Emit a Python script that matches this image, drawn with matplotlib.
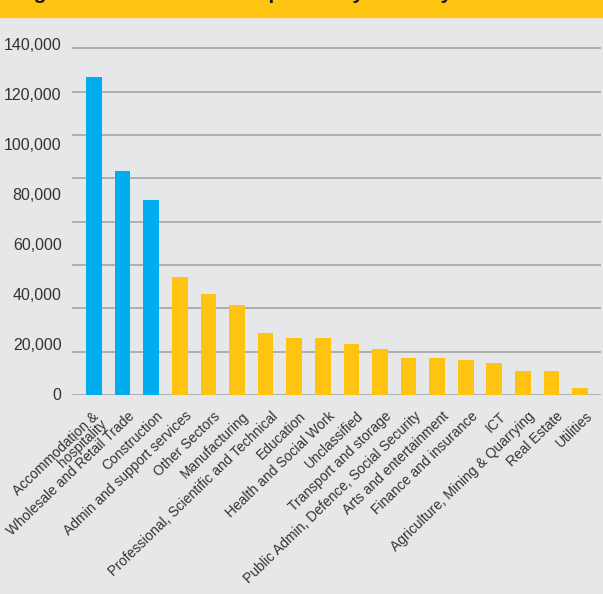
import numpy as np
import matplotlib.pyplot as plt
from matplotlib.transforms import ScaledTranslation

plt.rcParams['font.family'] = ['Liberation Sans', 'DejaVu Sans']

sectors = ['Accommodation &\nhospitality', 'Wholesale and Retail Trade', 'Construction',
           'Admin and support services', 'Other Sectors', 'Manufacturing',
           'Professional, Scientific and Technical', 'Education', 'Health and Social Work',
           'Unclassified', 'Transport and storage', 'Public Admin, Defence, Social Security',
           'Arts and entertainment', 'Finance and insurance', 'ICT',
           'Agriculture, Mining & Quarrying', 'Real Estate', 'Utilities']
workers = [127000, 89500, 78000, 47000, 40200, 35800, 24600, 22600, 22600,
           20300, 18100, 14600, 14600, 13700, 12600, 9300, 9300, 2600]
highlighted = 3  # the top three sectors are drawn in blue

y_ticks = [0, 20000, 40000, 60000, 80000, 100000, 120000, 140000]

BLUE = '#00AEEF'
YELLOW = '#FFC312'
BG = '#E6E7E8'
GRID = '#9E9EA0'
TEXT = '#333333'

fig = plt.figure(figsize=(6.03, 5.94), dpi=100, facecolor=BG)

# yellow heading strip, title mostly runs off the top edge
fig.patches.append(plt.Rectangle((0, 1 - 17 / 594), 1, 17 / 594, transform=fig.transFigure,
                                 color=YELLOW, zorder=0))
fig.text(15 / 603, 1 + 1 / 594, 'Figure 3: Number of workplaces by industry',
         fontsize=15, fontweight='bold', color='#1a1a1a', va='baseline', ha='left')

ax = fig.add_axes([72 / 603, (594 - 394.5) / 594, 529 / 603, 355 / 594])
ax.set_facecolor(BG)

x = np.arange(len(sectors))
colors = [BLUE if i < highlighted else YELLOW for i in range(len(sectors))]
ax.bar(x, workers, width=0.55, color=colors, zorder=3)

# horizontal rules sit on their own spacing, independent of the labels
for k in range(9):
    ax.axhline(-200 + k * 17333, color=GRID, lw=1.1, zorder=1)

ax.set_xlim(-0.77, len(sectors) - 0.27)
ax.set_ylim(0, 142000)

ax.set_yticks(y_ticks)
ax.set_yticklabels([f'{v:,}' for v in y_ticks])
ax.tick_params(axis='y', length=0, pad=7.5, labelsize=11.5, labelcolor=TEXT)

ax.set_xticks(x)
ax.set_xticklabels(sectors, rotation=44, ha='right', va='top', rotation_mode='anchor',
                   multialignment='right', linespacing=0.78)
ax.tick_params(axis='x', length=0, pad=10.5, labelsize=10, labelcolor=TEXT)
for i, lbl in enumerate(ax.get_xticklabels()):
    dx = -2 if i == 0 else 5  # two-line label sits a little further left
    lbl.set_transform(lbl.get_transform() + ScaledTranslation(dx / 100, 0, fig.dpi_scale_trans))

for s in ax.spines.values():
    s.set_visible(False)

plt.savefig('out.png', dpi=100, facecolor=BG)
